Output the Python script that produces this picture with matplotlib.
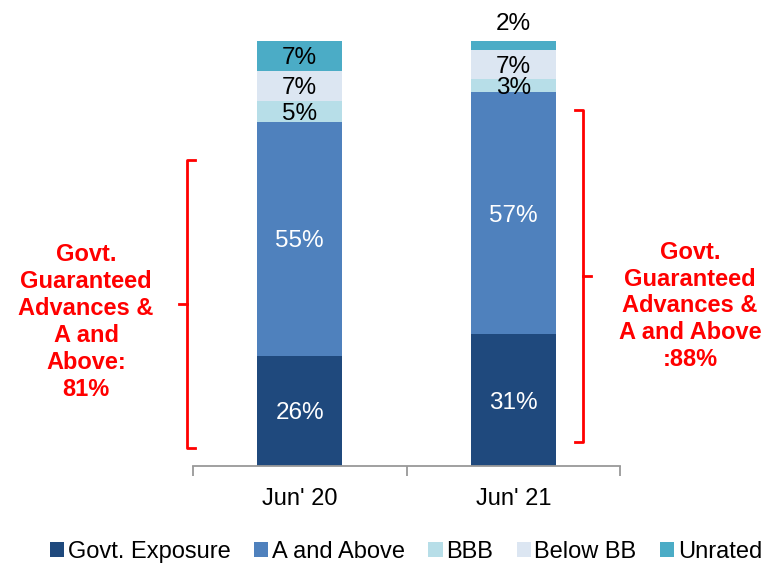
import matplotlib
matplotlib.use("Agg")
import matplotlib.pyplot as plt
from matplotlib.patches import Patch
from matplotlib.lines import Line2D

plt.rcParams['font.family'] = ['Liberation Sans', 'DejaVu Sans']

categories = ["Jun' 20", "Jun' 21"]
series = ["Govt. Exposure", "A and Above", "BBB", "Below BB", "Unrated"]
values = {
    "Govt. Exposure": [26, 31],
    "A and Above": [55, 57],
    "BBB": [5, 3],
    "Below BB": [7, 7],
    "Unrated": [7, 2],
}
colors = ["#1F497D", "#4F81BD", "#B7DEE8", "#DCE6F2", "#4BACC6"]
label_colors = ["white", "white", "black", "black", "black"]
left_note = "Govt.\nGuaranteed\nAdvances &\nA and\nAbove:\n81%"
right_note = "Govt.\nGuaranteed\nAdvances &\nA and Above\n:88%"

W, H = 766, 566
fig = plt.figure(figsize=(W / 100, H / 100), dpi=100)
ax = fig.add_axes([193 / W, 1 - 466 / H, 427 / W, 425 / H])

x = list(range(len(categories)))
bottoms = [0] * len(categories)
for s, c, lc in zip(series, colors, label_colors):
    vals = values[s]
    ax.bar(x, vals, width=0.4, bottom=bottoms, color=c, edgecolor='none')
    for i, v in enumerate(vals):
        if v >= 3:
            ax.text(x[i], bottoms[i] + v / 2, f"{v}%", ha='center', va='center_baseline',
                    color=lc, fontsize=17.5)
        else:
            ax.text(x[i], bottoms[i] + v + 1.5, f"{v}%", ha='center', va='bottom',
                    color=lc, fontsize=17.5, clip_on=False)
    bottoms = [b + v for b, v in zip(bottoms, vals)]

ax.set_xlim(-0.5, 1.5)
ax.set_ylim(0, 100)
for sp in ['top', 'right', 'left']:
    ax.spines[sp].set_visible(False)
ax.spines['bottom'].set_color('#999999')
ax.spines['bottom'].set_linewidth(1.3)
ax.set_yticks([])
ax.set_xticks(x)
ax.set_xticklabels(categories, fontsize=17)
ax.tick_params(axis='x', which='major', length=0, pad=16)
ax.set_xticks([-0.5, 0.5, 1.5], minor=True)
ax.tick_params(axis='x', which='minor', length=7, color='#999999', width=1.3)

# brackets (figure pixel coords)
def px(xp, yp):
    return xp / W, 1 - yp / H

def bracket(xb, y0, y1, serif_dir, tick_dir):
    lw = 2
    col = '#FF0000'
    pts = [px(xb + serif_dir * 8, y0), px(xb, y0), px(xb, y1), px(xb + serif_dir * 8, y1)]
    fig.add_artist(Line2D([p[0] for p in pts], [p[1] for p in pts], color=col, lw=lw,
                          transform=fig.transFigure))
    ym = (y0 + y1) / 2
    a, b = px(xb, ym), px(xb + tick_dir * 8, ym)
    fig.add_artist(Line2D([a[0], b[0]], [a[1], b[1]], color=col, lw=lw,
                          transform=fig.transFigure))

bracket(187, 160, 448, +1, -1)
bracket(583, 110, 442, -1, +1)

fig.text(86 / W, 1 - 322 / H, left_note, ha='center', va='center', color='#FF0000',
         fontsize=17, fontweight='bold', linespacing=1.22)
fig.text(690 / W, 1 - 306 / H, right_note, ha='center', va='center', color='#FF0000',
         fontsize=17, fontweight='bold', linespacing=1.22)

handles = [Patch(facecolor=c, edgecolor='none') for c in colors]
fig.legend(handles, series, loc='center', bbox_to_anchor=(406 / W, 1 - 552 / H), ncol=5,
           frameon=False, fontsize=17, handlelength=0.6, handleheight=0.6,
           handletextpad=0.15, columnspacing=1.0, borderaxespad=0, borderpad=0)

fig.savefig("out.png", dpi=100)
